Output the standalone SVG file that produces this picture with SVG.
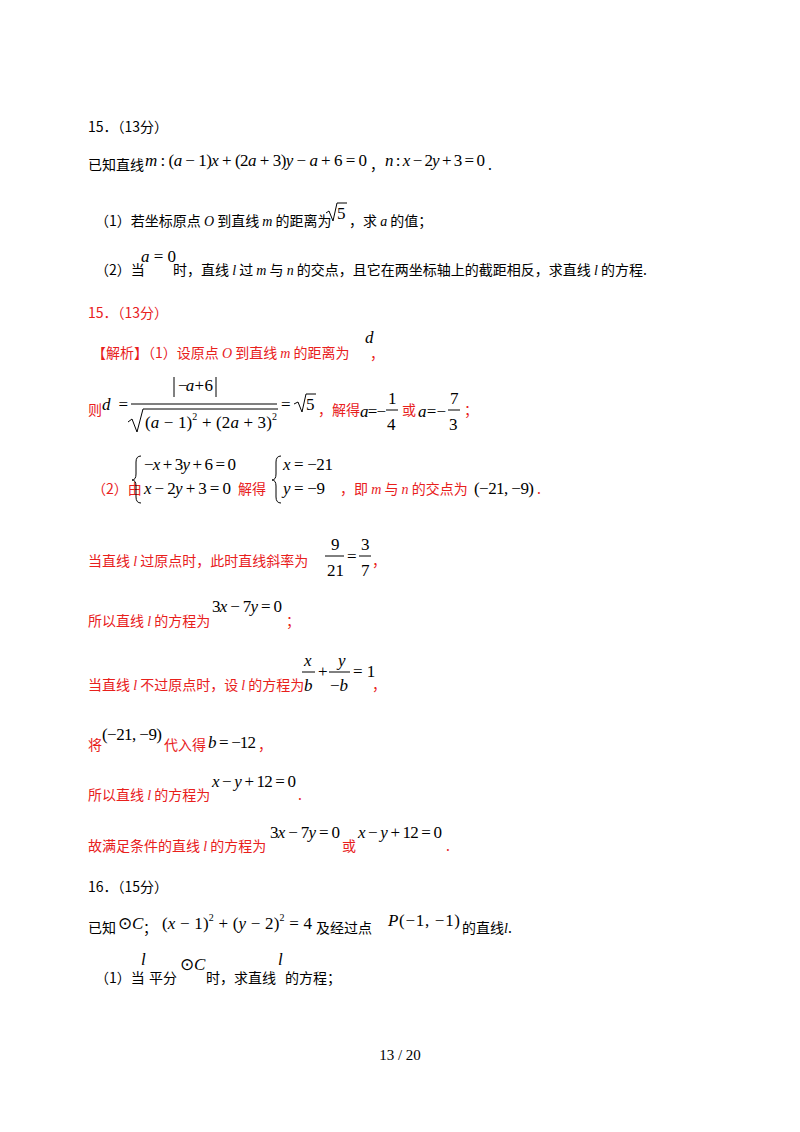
<svg xmlns="http://www.w3.org/2000/svg" width="800" height="1132" viewBox="0 0 800 1132">
<style>
text{font-family:"Liberation Serif","Noto Sans CJK SC",serif;font-size:15px;fill:#000}
.c{font-family:"Noto Sans CJK SC","Liberation Sans",sans-serif;font-size:14px}
.r{fill:#e8201c}
.m{font-family:"Liberation Serif",serif;font-size:17px}
.i{font-style:italic}
.s{font-size:10px}
line,path{stroke:#000;stroke-width:1;fill:none}
</style>
<rect width="800" height="1132" fill="#fff"/>
<text x="88" y="132" class="c">15．（13分）</text>
<text x="88" y="170" class="c">已知直线</text>
<text x="145" y="166" class="m" textLength="222" lengthAdjust="spacing"><tspan class="i">m</tspan> : (<tspan class="i">a</tspan> − 1)<tspan class="i">x</tspan> + (2<tspan class="i">a</tspan> + 3)<tspan class="i">y</tspan> − <tspan class="i">a</tspan> + 6 = 0</text>
<text x="370" y="170" class="c">，</text>
<text x="385" y="166" class="m" textLength="100" lengthAdjust="spacing"><tspan class="i">n</tspan> : <tspan class="i">x</tspan> − 2<tspan class="i">y</tspan> + 3 = 0</text>
<text x="488" y="170" class="c">.</text>
<text x="95" y="226" class="c">（1）若坐标原点 <tspan class="i" font-family="Liberation Serif">O</tspan> 到直线 <tspan class="i" font-family="Liberation Serif">m</tspan> 的距离为</text>
<path d="M326 213 L329 211 L333 221 L337 203 L347 203"/>
<text x="337" y="219" class="m">5</text>
<text x="349" y="226" class="c">，求 <tspan class="i" font-family="Liberation Serif">a</tspan> 的值；</text>
<text x="95" y="275" class="c">（2）当</text>
<text x="141" y="262" class="m"><tspan class="i">a</tspan> = 0</text>
<text x="173" y="275" class="c">时，直线 <tspan class="i" font-family="Liberation Serif">l</tspan> 过 <tspan class="i" font-family="Liberation Serif">m</tspan> 与 <tspan class="i" font-family="Liberation Serif">n</tspan> 的交点，且它在两坐标轴上的截距相反，求直线 <tspan class="i" font-family="Liberation Serif">l</tspan> 的方程.</text>
<text x="88" y="318" class="c r">15．（13分）</text>
<text x="92" y="358" class="c r">【解析】（1）设原点 <tspan class="i" font-family="Liberation Serif">O</tspan> 到直线 <tspan class="i" font-family="Liberation Serif">m</tspan> 的距离为</text>
<text x="365" y="343" class="m i">d</text>
<text x="370" y="359" class="c r">，</text>
<text x="88" y="415" class="c r">则</text>
<text x="102" y="410" class="m" textLength="26" lengthAdjust="spacing"><tspan class="i">d</tspan> =</text>
<path d="M174 377 V397 M216 377 V397"/>
<text x="178" y="391" class="m" textLength="35" lengthAdjust="spacing">−<tspan class="i">a</tspan> + 6</text>
<line x1="131" y1="404" x2="277" y2="404"/>
<path d="M128 422 L132 419 L137 432 L143 409 L278 409"/>
<text x="145" y="428" class="m" textLength="132" lengthAdjust="spacing">(<tspan class="i">a</tspan> − 1)<tspan class="s" dy="-8">2</tspan><tspan dy="8"> + (2</tspan><tspan class="i">a</tspan> + 3)<tspan class="s" dy="-8">2</tspan></text>
<text x="281" y="410" class="m">=</text>
<path d="M294 404 L298 402 L302 412 L306 394 L316 394"/>
<text x="306" y="410" class="m">5</text>
<text x="318" y="415" class="c r">，解得</text>
<text x="360" y="417" class="m" textLength="26" lengthAdjust="spacing"><tspan class="i">a</tspan> = −</text>
<text x="388" y="404" class="m">1</text><line x1="386" y1="410" x2="398" y2="410"/><text x="387" y="430" class="m">4</text>
<text x="402" y="415" class="c r">或</text>
<text x="418" y="417" class="m" textLength="28" lengthAdjust="spacing"><tspan class="i">a</tspan> = −</text>
<text x="450" y="404" class="m">7</text><line x1="448" y1="410" x2="460" y2="410"/><text x="449" y="430" class="m">3</text>
<text x="464" y="415" class="c r">；</text>
<text x="92" y="494" class="c r">（2）由</text>
<path d="M141 456 Q136 456 136 462 V474 Q136 480 132 480 Q136 480 136 486 V497 Q136 503 141 503"/>
<text x="144" y="470" class="m" textLength="92" lengthAdjust="spacing">−<tspan class="i">x</tspan> + 3<tspan class="i">y</tspan> + 6 = 0</text>
<text x="144" y="494" class="m" textLength="87" lengthAdjust="spacing"><tspan class="i">x</tspan> − 2<tspan class="i">y</tspan> + 3 = 0</text>
<text x="238" y="494" class="c r">解得</text>
<path d="M281 456 Q276 456 276 462 V474 Q276 480 272 480 Q276 480 276 486 V497 Q276 503 281 503"/>
<text x="283" y="470" class="m" textLength="50" lengthAdjust="spacing"><tspan class="i">x</tspan> = −21</text>
<text x="283" y="494" class="m" textLength="42" lengthAdjust="spacing"><tspan class="i">y</tspan> = −9</text>
<text x="340" y="494" class="c r">，即 <tspan class="i" font-family="Liberation Serif">m</tspan> 与 <tspan class="i" font-family="Liberation Serif">n</tspan> 的交点为</text>
<text x="474" y="494" class="m" textLength="60" lengthAdjust="spacing">(−21, −9)</text>
<text x="537" y="494" class="c r">.</text>
<text x="88" y="566" class="c r">当直线 <tspan class="i" font-family="Liberation Serif">l</tspan> 过原点时，此时直线斜率为</text>
<text x="331" y="550" class="m">9</text><text x="327" y="576" class="m">21</text><line x1="325" y1="556" x2="344" y2="556"/>
<text x="347" y="562" class="m">=</text>
<text x="361" y="550" class="m">3</text><text x="361" y="576" class="m">7</text><line x1="359" y1="556" x2="371" y2="556"/>
<text x="372" y="566" class="c r">，</text>
<text x="88" y="626" class="c r">所以直线 <tspan class="i" font-family="Liberation Serif">l</tspan> 的方程为</text>
<text x="212" y="612" class="m" textLength="70" lengthAdjust="spacing">3<tspan class="i">x</tspan> − 7<tspan class="i">y</tspan> = 0</text>
<text x="286" y="626" class="c r">；</text>
<text x="88" y="690" class="c r">当直线 <tspan class="i" font-family="Liberation Serif">l</tspan> 不过原点时，设 <tspan class="i" font-family="Liberation Serif">l</tspan> 的方程为</text>
<text x="304" y="666" class="m i">x</text><text x="304" y="691" class="m i">b</text><line x1="302" y1="672" x2="315" y2="672"/>
<text x="318" y="677" class="m">+</text>
<text x="338" y="666" class="m i">y</text><text x="330" y="691" class="m">−<tspan class="i">b</tspan></text><line x1="329" y1="672" x2="350" y2="672"/>
<text x="353" y="677" class="m">= 1</text>
<text x="372" y="690" class="c r">，</text>
<text x="88" y="750" class="c r">将</text>
<text x="102" y="740" class="m" textLength="60" lengthAdjust="spacing">(−21, −9)</text>
<text x="164" y="750" class="c r">代入得</text>
<text x="208" y="748" class="m" textLength="48" lengthAdjust="spacing"><tspan class="i">b</tspan> = −12</text>
<text x="258" y="750" class="c r">，</text>
<text x="88" y="800" class="c r">所以直线 <tspan class="i" font-family="Liberation Serif">l</tspan> 的方程为</text>
<text x="212" y="787" class="m" textLength="84" lengthAdjust="spacing"><tspan class="i">x</tspan> − <tspan class="i">y</tspan> + 12 = 0</text>
<text x="298" y="800" class="c r">.</text>
<text x="88" y="851" class="c r">故满足条件的直线 <tspan class="i" font-family="Liberation Serif">l</tspan> 的方程为</text>
<text x="270" y="838" class="m" textLength="70" lengthAdjust="spacing">3<tspan class="i">x</tspan> − 7<tspan class="i">y</tspan> = 0</text>
<text x="342" y="851" class="c r">或</text>
<text x="358" y="838" class="m" textLength="84" lengthAdjust="spacing"><tspan class="i">x</tspan> − <tspan class="i">y</tspan> + 12 = 0</text>
<text x="446" y="851" class="c r">.</text>
<text x="88" y="892" class="c">16．（15分）</text>
<text x="88" y="933" class="c">已知</text>
<text x="118" y="929" class="m">⊙<tspan class="i">C</tspan></text>
<text x="143" y="933" class="c">；</text>
<text x="162" y="929" class="m" textLength="150" lengthAdjust="spacing">(<tspan class="i">x</tspan> − 1)<tspan class="s" dy="-8">2</tspan><tspan dy="8"> + (</tspan><tspan class="i">y</tspan> − 2)<tspan class="s" dy="-8">2</tspan><tspan dy="8"> = 4</tspan></text>
<text x="316" y="933" class="c">及经过点</text>
<text x="388" y="926" class="m" textLength="72" lengthAdjust="spacing"><tspan class="i">P</tspan>(−1, −1)</text>
<text x="462" y="933" class="c">的直线<tspan class="i" font-family="Liberation Serif">l</tspan>.</text>
<text x="95" y="983" class="c">（1）当</text>
<text x="141" y="965" class="m i">l</text>
<text x="149" y="983" class="c">平分</text>
<text x="180" y="970" class="m">⊙<tspan class="i">C</tspan></text>
<text x="206" y="983" class="c">时，求直线</text>
<text x="278" y="965" class="m i">l</text>
<text x="285" y="983" class="c">的方程；</text>
<text x="400" y="1060" text-anchor="middle" font-size="14">13 / 20</text>
</svg>
